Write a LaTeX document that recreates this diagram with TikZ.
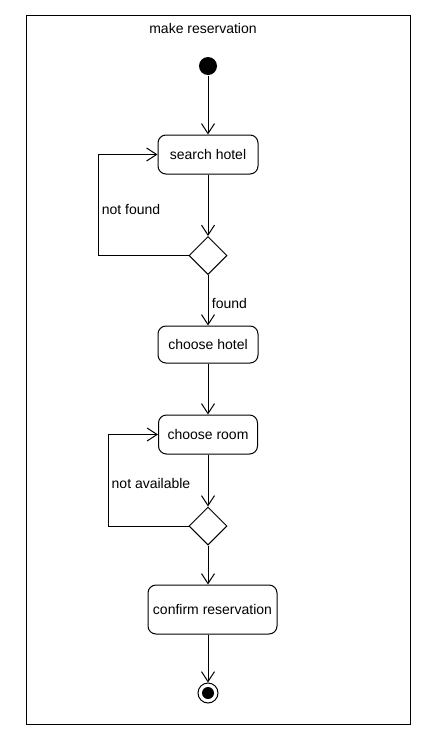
\documentclass[tikz,border=0pt]{standalone}
\usepackage{fontspec}
\setmainfont{Liberation Sans}
\usetikzlibrary{arrows.meta,shapes.geometric}
\begin{document}
\begin{tikzpicture}[x=1pt,y=-1pt,line width=1pt,
  every node/.style={font=\fontsize{14}{16}\selectfont},
  action/.style={draw,rounded corners=8pt,fill=white,inner sep=0pt},
  decision/.style={draw,diamond,aspect=1,inner sep=0pt,minimum width=38pt,minimum height=38pt},
  flow/.style={-{Straight Barb[length=10pt,width=13pt]}},
  guard/.style={inner sep=0pt}]
  \useasboundingbox (0,0) rectangle (430,739);
  \fill[white] (0,0) rectangle (430,739);
  % activity frame
  \draw (26,15) rectangle (410,724);
  \node (title) at (203,28) {make reservation};
  % nodes
  \node[circle,fill=black,inner sep=0pt,minimum size=18pt] (start) at (208,66) {};
  \node[action,minimum width=100pt,minimum height=39pt] (search) at (208,154.5) {search hotel};
  \node[decision] (d1) at (208,255.5) {};
  \node[action,minimum width=100pt,minimum height=37pt] (hotel) at (208,344.5) {choose hotel};
  \node[action,minimum width=99pt,minimum height=39pt] (room) at (208,434.5) {choose room};
  \node[decision] (d2) at (208,526) {};
  \node[action,minimum width=129pt,minimum height=49pt] (confirm) at (212.5,609.5) {confirm reservation};
  \node[circle,draw,fill=white,inner sep=0pt,minimum size=20pt] (end) at (208,693) {};
  \fill (end.center) circle (6pt);
  \coordinate (l1) at (98,255.5);
  \coordinate (l2) at (108,526);
  % connectors
  \draw[flow] (start) -- (search);
  \draw[flow] (search) -- (d1);
  \draw[flow] (d1) -- (hotel);
  \draw[flow] (hotel) -- (room);
  \draw[flow] (room) -- (d2);
  \draw[flow] (d2.south) -- (d2.south |- confirm.north);
  \draw[flow] (confirm.south -| end) -- (end);
  \draw[flow] (d1.west) -- (l1) |- (search.west);
  \draw[flow] (d2.west) -- (l2) |- (room.west);
  % guards
  \node[guard] (g1) at (131,209) {not found};
  \node[guard] (g2) at (229.5,303) {found};
  \node[guard] (g3) at (151,483) {not available};
\end{tikzpicture}
\end{document}
